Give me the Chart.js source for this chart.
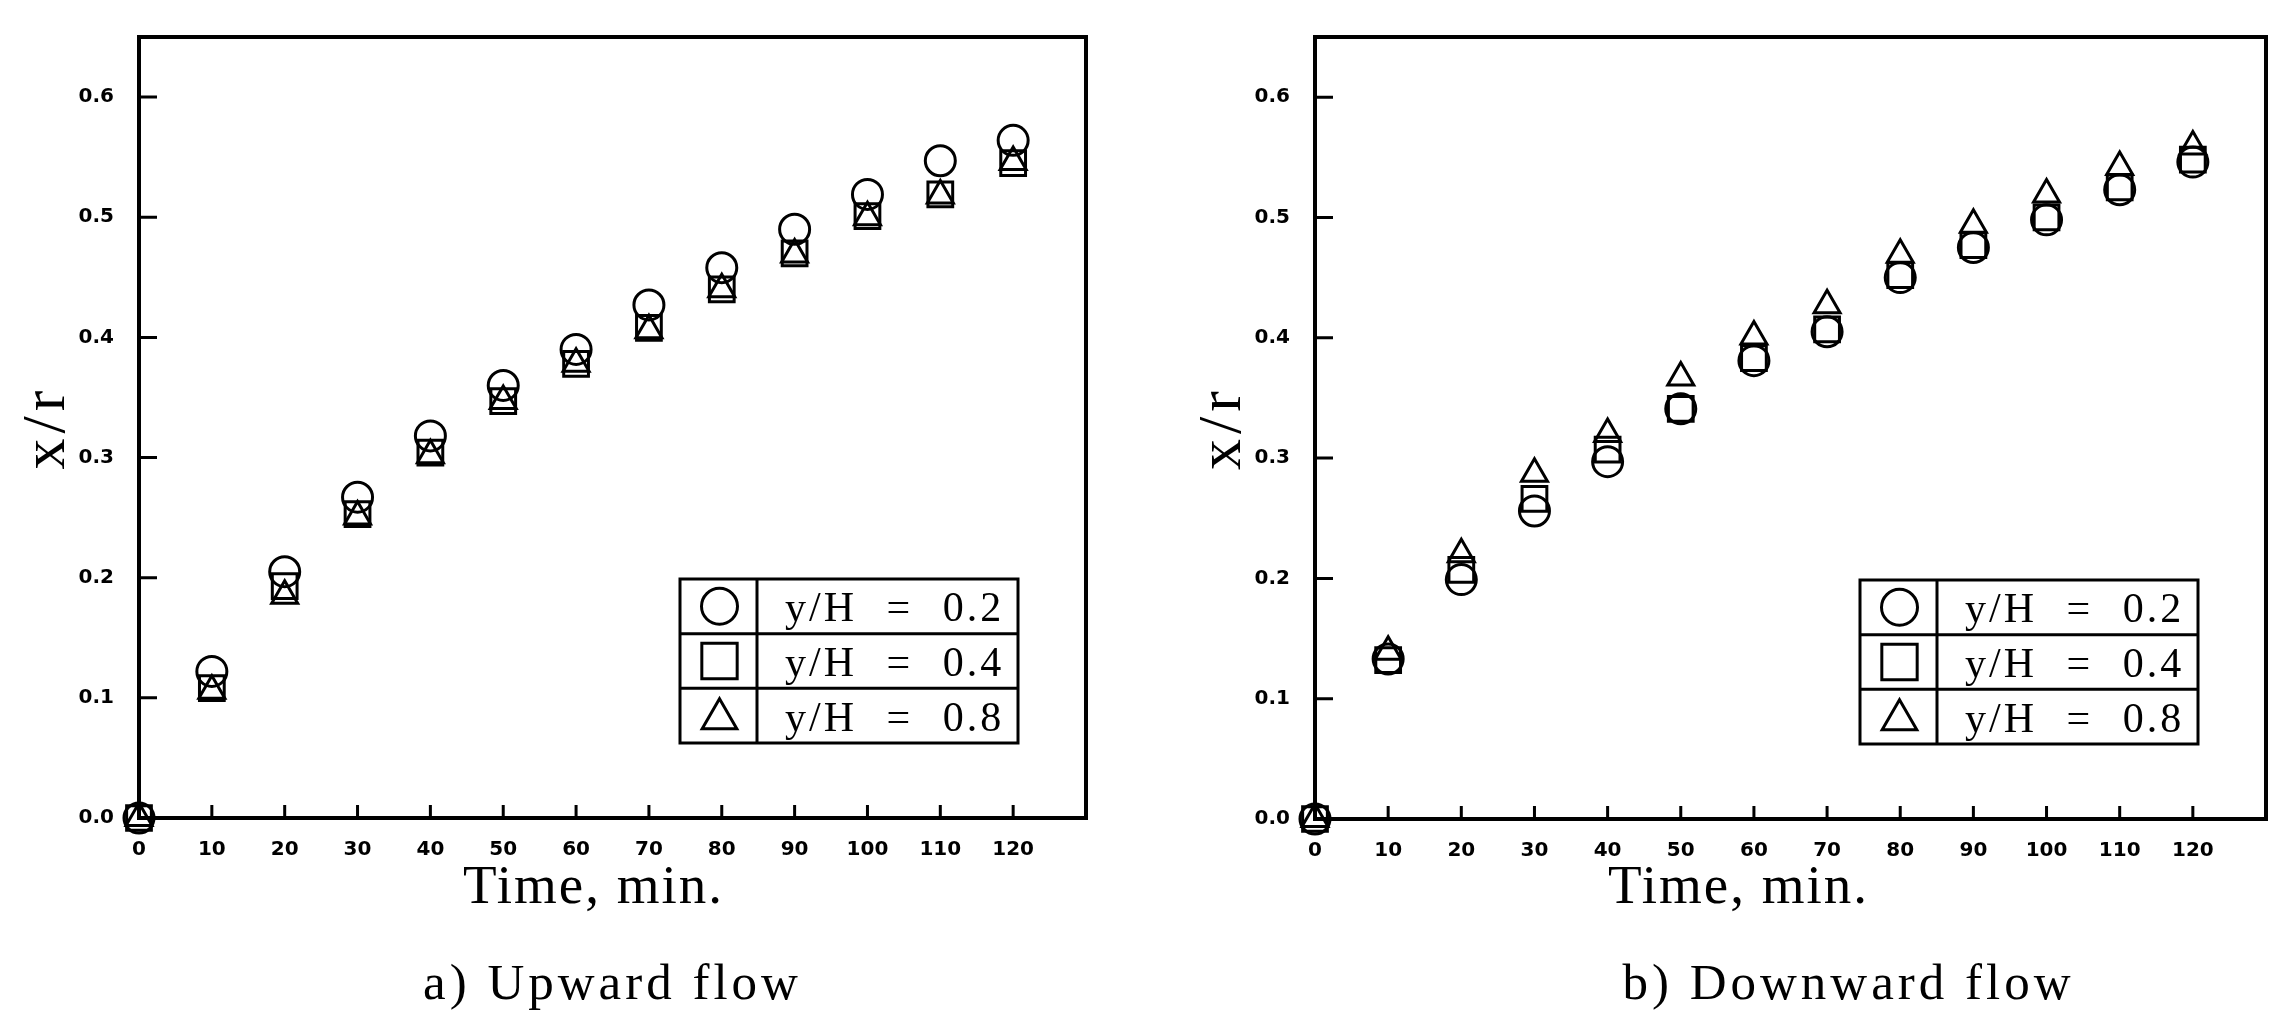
<!DOCTYPE html>
<html>
<head>
<meta charset="utf-8">
<script src="https://cdn.jsdelivr.net/npm/chart.js@4/dist/chart.umd.min.js"></script>
<style>
  html, body { margin: 0; padding: 0; background: #fff; }
  #wrap { position: relative; width: 2287px; height: 1015px; background: #fff; }
  .panel { position: absolute; top: 0; }
</style>
</head>
<body>
<div id="wrap">
  <canvas id="upward" class="panel" width="1150" height="1015" style="left:0px"></canvas>
  <canvas id="downward" class="panel" width="1137" height="1015" style="left:1150px"></canvas>
</div>
<script>
// Elapsed time, min.
const times = [0, 10, 20, 30, 40, 50, 60, 70, 80, 90, 100, 110, 120];

// Front position x/r, upward flow
const upwardH02 = [0, 0.122, 0.205, 0.267, 0.318, 0.360, 0.390, 0.427, 0.458, 0.490, 0.519, 0.547, 0.564];
const upwardH04 = [0, 0.108, 0.193, 0.253, 0.304, 0.347, 0.378, 0.408, 0.440, 0.470, 0.501, 0.519, 0.545];
const upwardH08 = [0, 0.106, 0.185, 0.251, 0.302, 0.347, 0.378, 0.406, 0.440, 0.469, 0.500, 0.518, 0.546];

// Front position x/r, downward flow
const downwardH02 = [0, 0.133, 0.199, 0.256, 0.297, 0.341, 0.381, 0.405, 0.450, 0.475, 0.498, 0.523, 0.546];
const downwardH04 = [0, 0.132, 0.207, 0.266, 0.307, 0.341, 0.383, 0.407, 0.452, 0.477, 0.500, 0.525, 0.548];
const downwardH08 = [0, 0.139, 0.220, 0.287, 0.320, 0.367, 0.401, 0.427, 0.469, 0.494, 0.519, 0.542, 0.559];

const seriesLabels = ['y/H = 0.2', 'y/H = 0.4', 'y/H = 0.8'];
const xTicks = [0, 10, 20, 30, 40, 50, 60, 70, 80, 90, 100, 110, 120];
const yTicks = [0, 0.1, 0.2, 0.3, 0.4, 0.5, 0.6];

const INK = '#000';
const SERIF = '"Liberation Serif", "Times New Roman", serif';
const TICKFONT = { family: '"DejaVu Sans", sans-serif', weight: 'bold', size: 20 };

// marker look per series: open circle, open square, open triangle
const markerStyles = [
  { pointStyle: 'circle',   pointRadius: 15,   legendRadius: 18 },
  { pointStyle: 'rect',     pointRadius: 17.5, legendRadius: 25 },
  { pointStyle: 'triangle', pointRadius: 15,   legendRadius: 20 }
];

function toPoints(ys) {
  return times.map((t, i) => ({ x: t, y: ys[i] }));
}

function spaced(ctx, px) {
  if ('letterSpacing' in ctx) ctx.letterSpacing = px + 'px';
}

// Frame, inward tick marks, axis titles, legend table and caption
const panelDecor = {
  id: 'panelDecor',
  beforeDatasetsDraw(chart) {
    const { ctx, chartArea: a, scales } = chart;
    ctx.save();
    ctx.strokeStyle = INK;
    ctx.lineWidth = 3;
    ctx.beginPath();
    xTicks.forEach(v => {
      const px = scales.x.getPixelForValue(v);
      ctx.moveTo(px, a.bottom);
      ctx.lineTo(px, a.bottom - 13);
    });
    yTicks.forEach(v => {
      const py = scales.y.getPixelForValue(v);
      ctx.moveTo(a.left, py);
      ctx.lineTo(a.left + 18, py);
    });
    ctx.stroke();
    ctx.lineWidth = 4;
    ctx.strokeRect(a.left, a.top, a.right - a.left, a.bottom - a.top);
    ctx.restore();
  },
  afterDraw(chart, args, opts) {
    const { ctx, chartArea: a } = chart;
    const cx = (a.left + a.right) / 2;
    const cy = (a.top + a.bottom) / 2;
    ctx.save();
    ctx.fillStyle = INK;
    ctx.strokeStyle = INK;
    ctx.textAlign = 'center';
    ctx.textBaseline = 'alphabetic';

    // y-axis title, reading upward
    ctx.save();
    ctx.translate(a.left - opts.yTitleGap, cy);
    ctx.rotate(-Math.PI / 2);
    ctx.font = '62px ' + SERIF;
    spaced(ctx, 5);
    ctx.fillText(opts.yTitle, 0, 0);
    ctx.restore();

    // x-axis title
    ctx.font = '55px ' + SERIF;
    spaced(ctx, 2);
    ctx.fillText(opts.xTitle, cx + opts.xTitleDx, 903);

    // panel caption
    ctx.font = '51px ' + SERIF;
    spaced(ctx, 4);
    ctx.fillText(opts.caption, cx + opts.captionDx, 999);

    // legend table
    const w = 338, h = 164, symW = 77;
    const right = a.right - 68, bottom = a.bottom - 75;
    const left = right - w, top = bottom - h;
    const rowH = h / 3;
    ctx.fillStyle = '#fff';
    ctx.fillRect(left, top, w, h);
    ctx.lineWidth = 3;
    ctx.strokeRect(left, top, w, h);
    ctx.beginPath();
    ctx.moveTo(left + symW, top);
    ctx.lineTo(left + symW, bottom);
    for (let r = 1; r < 3; r++) {
      ctx.moveTo(left, top + rowH * r);
      ctx.lineTo(right, top + rowH * r);
    }
    ctx.stroke();

    ctx.textAlign = 'left';
    ctx.font = '42px ' + SERIF;
    spaced(ctx, 3);
    if ('wordSpacing' in ctx) ctx.wordSpacing = '16px';
    chart.data.datasets.forEach((ds, i) => {
      const yc = top + rowH * (i + 0.5);
      ctx.fillStyle = 'rgba(0,0,0,0)';
      Chart.helpers.drawPoint(ctx, {
        pointStyle: ds.pointStyle,
        radius: markerStyles[i].legendRadius,
        borderWidth: 3,
        rotation: 0
      }, left + symW / 2 + 1, yc + (ds.pointStyle === 'triangle' ? 3 : 0));
      ctx.fillStyle = INK;
      ctx.fillText(ds.label, left + symW + 28, yc + 15);
    });
    ctx.restore();
  }
};

function makePanel(canvasId, series, geo) {
  const datasets = series.map((ys, i) => ({
    label: seriesLabels[i],
    data: toPoints(ys),
    pointStyle: markerStyles[i].pointStyle,
    pointRadius: markerStyles[i].pointRadius,
    pointHoverRadius: markerStyles[i].pointRadius,
    pointBorderWidth: 3,
    pointBorderColor: INK,
    pointBackgroundColor: 'rgba(0,0,0,0)',
    showLine: false,
    clip: false
  }));

  return new Chart(document.getElementById(canvasId), {
    type: 'scatter',
    data: { datasets },
    plugins: [panelDecor],
    options: {
      responsive: false,
      animation: false,
      events: [],
      layout: { padding: { top: geo.top, left: geo.padLeft, right: geo.padRight, bottom: 0 } },
      plugins: {
        legend: { display: false },
        tooltip: { enabled: false },
        title: { display: false },
        panelDecor: {
          xTitle: 'Time, min.',
          xTitleDx: geo.xTitleDx,
          yTitle: 'x/r',
          yTitleGap: 75,
          caption: geo.caption,
          captionDx: geo.captionDx
        }
      },
      scales: {
        x: {
          type: 'linear',
          min: 0,
          max: 130,
          afterBuildTicks: s => { s.ticks = xTicks.map(v => ({ value: v })); },
          afterFit: s => { s.height = 1015 - geo.bottom; },
          grid: { display: false, drawTicks: false },
          border: { display: false },
          ticks: {
            autoSkip: false,
            maxRotation: 0,
            padding: 20,
            color: INK,
            font: TICKFONT,
            callback: v => String(v)
          }
        },
        y: {
          type: 'linear',
          min: 0,
          max: 0.65,
          afterBuildTicks: s => { s.ticks = yTicks.map(v => ({ value: v })); },
          afterFit: s => { s.width = geo.yWidth; },
          grid: { display: false, drawTicks: false },
          border: { display: false },
          ticks: {
            padding: 25,
            color: INK,
            font: TICKFONT,
            callback: v => Number(v).toFixed(1)
          }
        }
      }
    }
  });
}

makePanel('upward', [upwardH02, upwardH04, upwardH08], {
  top: 23, bottom: 818, padLeft: 0, padRight: 64, yWidth: 139,
  xTitleDx: -19, caption: 'a) Upward flow', captionDx: 0
});

makePanel('downward', [downwardH02, downwardH04, downwardH08], {
  top: 24, bottom: 819, padLeft: 23, padRight: 21, yWidth: 142,
  xTitleDx: -52, caption: 'b) Downward flow', captionDx: 58
});
</script>
</body>
</html>
